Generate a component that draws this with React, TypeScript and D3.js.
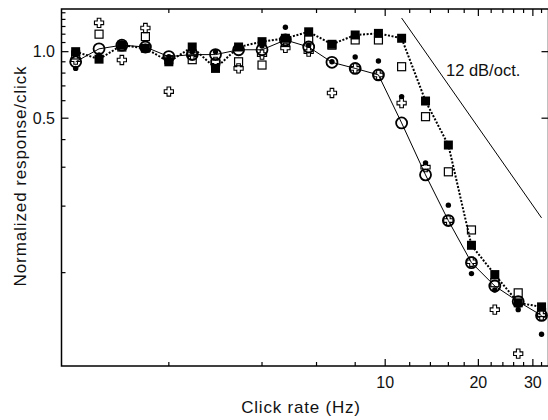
import React from "react";
import * as d3 from "d3";

// Click rates (Hz), quarter-octave steps
const rates = [1, 1.19, 1.41, 1.68, 2, 2.38, 2.83, 3.36, 4, 4.76, 5.66, 6.73, 8, 9.51, 11.3, 13.5, 16, 19, 22.6, 26.9, 32];

// Normalized response per click for each condition
const openCircle = [0.9, 1.03, 1.07, 1.05, 0.95, 0.97, 0.97, 1.02, 1.02, 1.13, 1.05, 0.895, 0.84, 0.785, 0.476, 0.277, 0.172, 0.111, 0.087, 0.074, 0.064];
const filledSquare = [1.0, 0.925, 1.07, 1.036, 0.9, 1.05, 0.84, 1.05, 1.11, 1.15, 1.23, 1.08, 1.19, 1.21, 1.15, 0.598, 0.378, 0.133, 0.098, 0.073, 0.07];
const openSquare = [0.966, 1.2, 1.05, 1.17, 0.92, 0.92, 0.89, 0.9, 0.87, 1.1, 1.13, 1.07, 1.13, 1.13, 0.855, 0.508, 0.286, 0.156, 0.09, 0.081, 0.066];
const filledDot = [0.84, 0.966, 1.095, 1.06, 0.95, 1.0, 1.0, 1.04, 1.06, 1.29, 1.07, 0.9, 0.946, 0.908, 0.626, 0.314, 0.202, 0.099, 0.0835, 0.068, 0.0526];
const openCross = [0.92, 1.35, 0.917, 1.28, 0.66, 0.97, 0.9, 0.84, 0.97, 1.04, 1.0, 0.65, 0.84, 0.785, 0.585, 0.3, 0.172, 0.112, 0.068, 0.043, 0.064];

// Axis ticks
const xMajorTicks = [10, 20, 30];
const xMinorTicks = [2, 4, 6, 8, 12, 14, 16, 18, 22, 24, 26, 28, 32];
const yMajorTicks = [0.5, 1.0];
const yMajorLabels = ["0.5", "1.0"];
const yMinorTicks = [0.1, 0.2, 0.3, 0.4, 0.6, 0.7, 0.8, 0.9, 1.1, 1.2, 1.3, 1.4, 1.5];

// Reference slope line (12 dB per octave)
const slopeRates = [11.3, 32];
const slopeValues = [1.42, 0.177];
const slopeLabel = "12 dB/oct.";

const FONT = "'Liberation Sans', Arial, Helvetica, sans-serif";

export default function App() {
  const left = 61.5, right = 548.5, top = 9, bottom = 366;
  const x = d3.scaleLog().domain([0.9, 33.7]).range([left, right]);
  const y = d3.scaleLog().domain([0.0378, 1.56]).range([bottom, top]);

  const line = d3
    .line<number>()
    .x((_, i) => x(rates[i]))
    .y((d) => y(d));

  const a = 1.8, b = 4.6;
  const crossPath = `M${-a},${-b}H${a}V${-a}H${b}V${a}H${a}V${b}H${-a}V${a}H${-b}V${-a}H${-a}Z`;

  const majLen = 7, minLen = 4;

  return (
    <svg width={548} height={420} style={{ position: "absolute", left: 0, top: 0, background: "#fff" }}>
      <rect x={0} y={0} width={548} height={420} fill="#fff" />
      {/* frame */}
      <rect x={left} y={top} width={right - left} height={bottom - top} fill="none" stroke="#000" strokeWidth={1.5} />

      {/* x ticks, bottom and top */}
      {xMinorTicks.map((t) => (
        <g key={"xm" + t}>
          <line x1={x(t)} x2={x(t)} y1={bottom} y2={bottom - minLen} stroke="#000" strokeWidth={1.2} />
          <line x1={x(t)} x2={x(t)} y1={top} y2={top + minLen} stroke="#000" strokeWidth={1.2} />
        </g>
      ))}
      {xMajorTicks.map((t) => (
        <g key={"xM" + t}>
          <line x1={x(t)} x2={x(t)} y1={bottom} y2={bottom - majLen} stroke="#000" strokeWidth={1.2} />
          <line x1={x(t)} x2={x(t)} y1={top} y2={top + majLen} stroke="#000" strokeWidth={1.2} />
          <text x={x(t)} y={388} textAnchor="middle" fontFamily={FONT} fontSize={16} fill="#111">
            {t}
          </text>
        </g>
      ))}

      {/* y ticks */}
      {yMinorTicks.map((t) => (
        <line key={"ym" + t} x1={left} x2={left + minLen} y1={y(t)} y2={y(t)} stroke="#000" strokeWidth={1.2} />
      ))}
      {yMajorTicks.map((t, i) => (
        <g key={"yM" + t}>
          <line x1={left} x2={left + majLen} y1={y(t)} y2={y(t)} stroke="#000" strokeWidth={1.2} />
          <line x1={right} x2={right - majLen} y1={y(t)} y2={y(t)} stroke="#000" strokeWidth={1.2} />
          <text x={55} y={y(t) + 5.5} textAnchor="end" fontFamily={FONT} fontSize={16} fill="#111">
            {yMajorLabels[i]}
          </text>
        </g>
      ))}

      {/* axis titles */}
      <text x={301} y={413} textAnchor="middle" fontFamily={FONT} fontSize={17} letterSpacing={0.8} fill="#111">
        Click rate (Hz)
      </text>
      <text
        transform={`translate(26,176) rotate(-90)`}
        textAnchor="middle"
        fontFamily={FONT}
        fontSize={17}
        letterSpacing={0.9}
        fill="#111"
      >
        Normalized response/click
      </text>

      {/* 12 dB/oct reference */}
      <line
        x1={x(slopeRates[0])}
        y1={y(slopeValues[0])}
        x2={x(slopeRates[1])}
        y2={y(slopeValues[1])}
        stroke="#000"
        strokeWidth={1}
      />
      <text x={446} y={76} fontFamily={FONT} fontSize={16.5} fill="#111">
        {slopeLabel}
      </text>

      {/* connecting lines */}
      <path d={line(openCircle) || ""} fill="none" stroke="#000" strokeWidth={1} />
      <path d={line(filledSquare) || ""} fill="none" stroke="#000" strokeWidth={2} strokeDasharray="2,1.6" />

      {/* markers */}
      {openSquare.map((v, i) => (
        <rect key={"os" + i} x={x(rates[i]) - 4} y={y(v) - 4} width={8} height={8} fill="none" stroke="#000" strokeWidth={1.2} />
      ))}
      {openCross.map((v, i) => (
        <path key={"oc" + i} d={crossPath} transform={`translate(${x(rates[i])},${y(v)})`} fill="none" stroke="#000" strokeWidth={1.1} />
      ))}
      {filledSquare.map((v, i) => (
        <rect key={"fs" + i} x={x(rates[i]) - 4.5} y={y(v) - 4.5} width={9} height={9} fill="#000" />
      ))}
      {filledDot.map((v, i) => (
        <circle key={"fd" + i} cx={x(rates[i])} cy={y(v)} r={2.7} fill="#000" />
      ))}
      {openCircle.map((v, i) => (
        <circle key={"ci" + i} cx={x(rates[i])} cy={y(v)} r={5.5} fill="none" stroke="#000" strokeWidth={1.8} />
      ))}
    </svg>
  );
}
